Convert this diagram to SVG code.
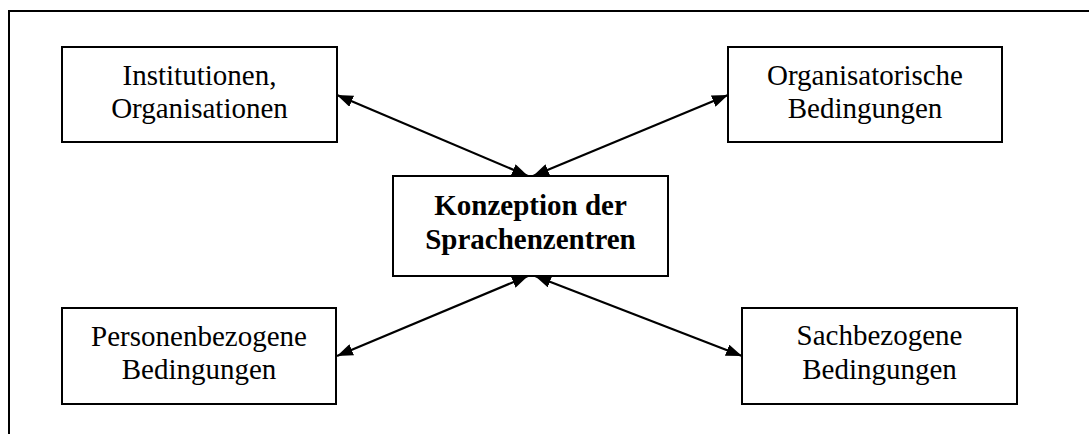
<svg xmlns="http://www.w3.org/2000/svg" width="1089" height="434" viewBox="0 0 1089 434">
  <style>
    .box { fill: #ffffff; stroke: #000000; stroke-width: 2; }
    .lbl { font-family: "Liberation Serif", "Times New Roman", serif; font-size: 29px; fill: #000000; text-anchor: middle; }
    .bold { font-weight: bold; }
    .conn { stroke: #000000; stroke-width: 2.2; fill: none; marker-start: url(#head); marker-end: url(#head); }
  </style>
  <defs>
    <marker id="head" viewBox="0 0 16 12" refX="16" refY="6" markerWidth="16" markerHeight="12" markerUnits="userSpaceOnUse" orient="auto-start-reverse">
      <path d="M0,0 L16,6 L0,12 Z" fill="#000000"/>
    </marker>
  </defs>

  <rect width="1089" height="434" fill="#ffffff"/>

  <!-- outer frame: only top and left edges fall inside the page -->
  <path d="M9,434 L9,11 L1089,11" fill="none" stroke="#000000" stroke-width="2"/>

  <g id="connectors">
    <line class="conn" x1="337" y1="95" x2="528" y2="176"/>
    <line class="conn" x1="728" y1="95" x2="533" y2="176"/>
    <line class="conn" x1="337" y1="356" x2="528" y2="276"/>
    <line class="conn" x1="742" y1="356" x2="535" y2="276"/>
  </g>

  <g id="node-institutionen">
    <rect class="box" x="62" y="47" width="275" height="95"/>
    <text class="lbl" x="199.5" y="85">Institutionen,</text>
    <text class="lbl" x="199.5" y="118">Organisationen</text>
  </g>

  <g id="node-organisatorisch">
    <rect class="box" x="728" y="47" width="274" height="95"/>
    <text class="lbl" x="865" y="85">Organisatorische</text>
    <text class="lbl" x="865" y="118">Bedingungen</text>
  </g>

  <g id="node-konzeption">
    <rect class="box" x="393" y="176" width="275" height="100"/>
    <text class="lbl bold" x="530.5" y="215">Konzeption der</text>
    <text class="lbl bold" x="530.5" y="249">Sprachenzentren</text>
  </g>

  <g id="node-personen">
    <rect class="box" x="62" y="308" width="274" height="96"/>
    <text class="lbl" x="199" y="346">Personenbezogene</text>
    <text class="lbl" x="199" y="379">Bedingungen</text>
  </g>

  <g id="node-sach">
    <rect class="box" x="742" y="308" width="275" height="96"/>
    <text class="lbl" x="879.5" y="345">Sachbezogene</text>
    <text class="lbl" x="879.5" y="379">Bedingungen</text>
  </g>
</svg>
